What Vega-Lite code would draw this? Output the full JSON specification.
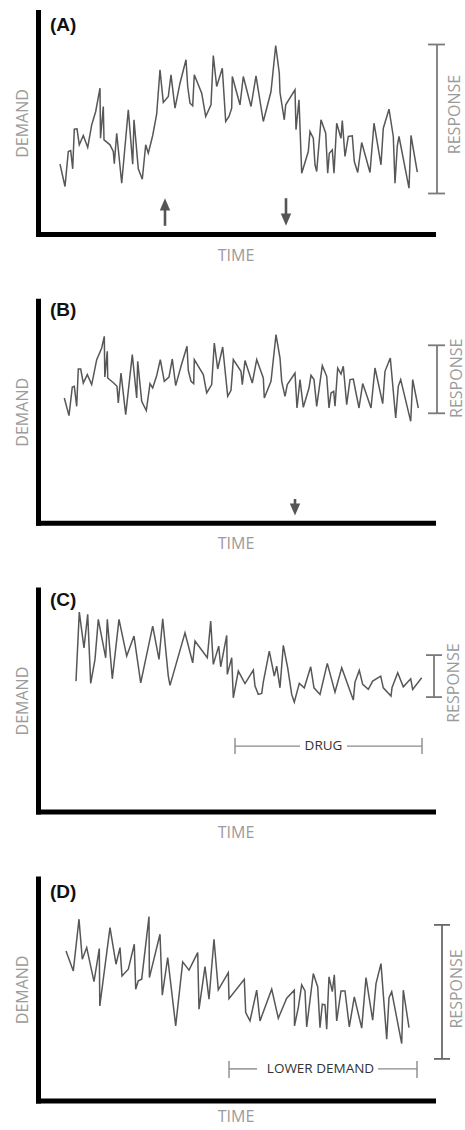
{
  "$schema": "https://vega.github.io/schema/vega-lite/v6.json",
  "padding": {"left": 14, "top": 12, "right": 0, "bottom": 3},
  "background": "white",
  "bounds": "flush",
  "spacing": 66.8,
  "config": {
    "view": {"stroke": null},
    "axis": {"domainColor": "#000", "domainWidth": 5, "domainCap": "square", "ticks": false, "labels": false, "grid": false, "titleFont": "Open Sans", "titleFontSize": 16, "titleFontWeight": "normal", "titleColor": "#9b9b9b"},
    "axisX": {"titlePadding": 13},
    "axisY": {"titlePadding": 8}
  },
  "datasets": {
    "series": [
      {"panel":"A","time":22.0,"demand":69.8},{"panel":"A","time":27.0,"demand":47.5},{"panel":"A","time":30.3,"demand":82.5},{"panel":"A","time":32.7,"demand":83.5},{"panel":"A","time":34.7,"demand":65.2},{"panel":"A","time":36.3,"demand":104.8},{"panel":"A","time":39.0,"demand":105.2},{"panel":"A","time":41.3,"demand":89.2},{"panel":"A","time":45.3,"demand":98.5},{"panel":"A","time":49.7,"demand":86.5},{"panel":"A","time":53.7,"demand":109.2},{"panel":"A","time":57.7,"demand":122.5},{"panel":"A","time":62.0,"demand":145.8},{"panel":"A","time":62.5,"demand":95.8},{"panel":"A","time":65.3,"demand":127.5},{"panel":"A","time":66.0,"demand":94.2},{"panel":"A","time":72.0,"demand":89.2},{"panel":"A","time":75.3,"demand":82.5},{"panel":"A","time":76.3,"demand":70.2},{"panel":"A","time":78.7,"demand":100.8},{"panel":"A","time":83.7,"demand":50.8},{"panel":"A","time":90.3,"demand":124.2},{"panel":"A","time":94.7,"demand":69.8},{"panel":"A","time":96.0,"demand":114.2},{"panel":"A","time":100.3,"demand":65.2},{"panel":"A","time":104.3,"demand":54.8},{"panel":"A","time":107.7,"demand":89.2},{"panel":"A","time":110.3,"demand":80.8},{"panel":"A","time":114.7,"demand":98.5},{"panel":"A","time":118.7,"demand":120.2},{"panel":"A","time":122.0,"demand":164.2},{"panel":"A","time":125.3,"demand":131.5},{"panel":"A","time":130.3,"demand":137.5},{"panel":"A","time":133.0,"demand":159.2},{"panel":"A","time":137.0,"demand":125.8},{"panel":"A","time":142.0,"demand":150.8},{"panel":"A","time":148.0,"demand":174.2},{"panel":"A","time":149.7,"demand":147.5},{"panel":"A","time":152.0,"demand":130.8},{"panel":"A","time":154.7,"demand":128.2},{"panel":"A","time":156.3,"demand":159.2},{"panel":"A","time":163.7,"demand":140.8},{"panel":"A","time":167.7,"demand":117.5},{"panel":"A","time":173.0,"demand":129.2},{"panel":"A","time":175.3,"demand":178.5},{"panel":"A","time":178.7,"demand":147.5},{"panel":"A","time":184.3,"demand":165.8},{"panel":"A","time":187.7,"demand":112.5},{"panel":"A","time":191.0,"demand":117.5},{"panel":"A","time":193.7,"demand":125.8},{"panel":"A","time":194.3,"demand":157.5},{"panel":"A","time":202.0,"demand":129.2},{"panel":"A","time":205.3,"demand":157.5},{"panel":"A","time":213.0,"demand":127.5},{"panel":"A","time":218.0,"demand":158.2},{"panel":"A","time":225.3,"demand":112.5},{"panel":"A","time":233.0,"demand":142.5},{"panel":"A","time":237.7,"demand":188.5},{"panel":"A","time":241.3,"demand":160.8},{"panel":"A","time":242.0,"demand":141.5},{"panel":"A","time":246.3,"demand":114.2},{"panel":"A","time":247.7,"demand":129.2},{"panel":"A","time":257.0,"demand":144.2},{"panel":"A","time":258.0,"demand":104.2},{"panel":"A","time":261.0,"demand":134.2},{"panel":"A","time":263.7,"demand":60.8},{"panel":"A","time":270.3,"demand":82.5},{"panel":"A","time":272.0,"demand":102.5},{"panel":"A","time":275.3,"demand":95.8},{"panel":"A","time":277.0,"demand":69.2},{"panel":"A","time":278.7,"demand":62.5},{"panel":"A","time":283.0,"demand":114.2},{"panel":"A","time":287.7,"demand":100.8},{"panel":"A","time":289.7,"demand":60.8},{"panel":"A","time":291.3,"demand":80.8},{"panel":"A","time":294.3,"demand":84.2},{"panel":"A","time":296.0,"demand":60.8},{"panel":"A","time":298.7,"demand":110.8},{"panel":"A","time":303.0,"demand":95.8},{"panel":"A","time":304.3,"demand":113.5},{"panel":"A","time":307.0,"demand":77.5},{"panel":"A","time":310.3,"demand":97.5},{"panel":"A","time":314.3,"demand":98.2},{"panel":"A","time":316.3,"demand":72.5},{"panel":"A","time":319.7,"demand":61.5},{"panel":"A","time":323.7,"demand":91.5},{"panel":"A","time":332.0,"demand":61.5},{"panel":"A","time":336.0,"demand":110.8},{"panel":"A","time":343.0,"demand":69.2},{"panel":"A","time":345.3,"demand":105.8},{"panel":"A","time":351.0,"demand":124.8},{"panel":"A","time":355.3,"demand":97.5},{"panel":"A","time":357.0,"demand":50.8},{"panel":"A","time":359.3,"demand":88.2},{"panel":"A","time":361.0,"demand":97.5},{"panel":"A","time":371.0,"demand":45.8},{"panel":"A","time":373.0,"demand":98.5},{"panel":"A","time":379.3,"demand":61.8},
      {"panel":"B","time":26.3,"demand":124.8},{"panel":"B","time":31.0,"demand":107.2},{"panel":"B","time":34.3,"demand":135.8},{"panel":"B","time":36.3,"demand":136.5},{"panel":"B","time":38.7,"demand":116.5},{"panel":"B","time":40.3,"demand":153.8},{"panel":"B","time":42.7,"demand":153.8},{"panel":"B","time":45.3,"demand":139.8},{"panel":"B","time":49.3,"demand":148.2},{"panel":"B","time":53.7,"demand":138.2},{"panel":"B","time":58.7,"demand":163.2},{"panel":"B","time":63.7,"demand":174.8},{"panel":"B","time":66.3,"demand":186.5},{"panel":"B","time":66.8,"demand":145.8},{"panel":"B","time":69.3,"demand":171.5},{"panel":"B","time":69.7,"demand":144.8},{"panel":"B","time":75.7,"demand":139.8},{"panel":"B","time":79.0,"demand":136.5},{"panel":"B","time":80.3,"demand":119.8},{"panel":"B","time":83.0,"demand":149.8},{"panel":"B","time":87.7,"demand":108.2},{"panel":"B","time":94.3,"demand":168.2},{"panel":"B","time":98.7,"demand":124.8},{"panel":"B","time":99.7,"demand":161.5},{"panel":"B","time":103.7,"demand":121.5},{"panel":"B","time":108.3,"demand":112.2},{"panel":"B","time":112.0,"demand":139.2},{"panel":"B","time":114.7,"demand":134.8},{"panel":"B","time":118.7,"demand":147.2},{"panel":"B","time":122.3,"demand":163.2},{"panel":"B","time":126.3,"demand":141.5},{"panel":"B","time":131.0,"demand":145.8},{"panel":"B","time":134.3,"demand":163.8},{"panel":"B","time":137.7,"demand":137.2},{"panel":"B","time":143.0,"demand":156.5},{"panel":"B","time":149.0,"demand":176.5},{"panel":"B","time":150.3,"demand":152.5},{"panel":"B","time":153.0,"demand":141.5},{"panel":"B","time":155.7,"demand":139.2},{"panel":"B","time":156.3,"demand":163.2},{"panel":"B","time":165.3,"demand":148.2},{"panel":"B","time":168.7,"demand":129.8},{"panel":"B","time":173.7,"demand":138.2},{"panel":"B","time":176.3,"demand":179.8},{"panel":"B","time":179.7,"demand":153.8},{"panel":"B","time":184.7,"demand":175.8},{"panel":"B","time":189.7,"demand":126.5},{"panel":"B","time":193.0,"demand":132.5},{"panel":"B","time":195.3,"demand":163.2},{"panel":"B","time":203.0,"demand":151.5},{"panel":"B","time":204.3,"demand":138.2},{"panel":"B","time":207.0,"demand":162.2},{"panel":"B","time":214.3,"demand":139.8},{"panel":"B","time":218.7,"demand":163.2},{"panel":"B","time":225.3,"demand":144.8},{"panel":"B","time":226.3,"demand":124.8},{"panel":"B","time":233.0,"demand":141.5},{"panel":"B","time":238.0,"demand":188.2},{"panel":"B","time":242.0,"demand":164.8},{"panel":"B","time":243.7,"demand":141.5},{"panel":"B","time":247.0,"demand":126.5},{"panel":"B","time":249.3,"demand":138.2},{"panel":"B","time":257.0,"demand":149.8},{"panel":"B","time":259.0,"demand":114.8},{"panel":"B","time":262.0,"demand":143.2},{"panel":"B","time":265.3,"demand":115.5},{"panel":"B","time":271.0,"demand":134.8},{"panel":"B","time":273.0,"demand":147.5},{"panel":"B","time":276.0,"demand":143.2},{"panel":"B","time":278.7,"demand":116.5},{"panel":"B","time":284.3,"demand":157.2},{"panel":"B","time":288.7,"demand":146.5},{"panel":"B","time":291.0,"demand":114.8},{"panel":"B","time":293.0,"demand":129.8},{"panel":"B","time":295.7,"demand":131.5},{"panel":"B","time":297.0,"demand":116.5},{"panel":"B","time":299.7,"demand":154.8},{"panel":"B","time":303.0,"demand":148.8},{"panel":"B","time":305.3,"demand":156.5},{"panel":"B","time":308.7,"demand":118.2},{"panel":"B","time":312.0,"demand":143.2},{"panel":"B","time":315.3,"demand":143.8},{"panel":"B","time":318.0,"demand":129.8},{"panel":"B","time":321.0,"demand":114.8},{"panel":"B","time":324.7,"demand":139.2},{"panel":"B","time":333.0,"demand":114.8},{"panel":"B","time":337.0,"demand":154.8},{"panel":"B","time":344.7,"demand":119.2},{"panel":"B","time":347.0,"demand":151.5},{"panel":"B","time":352.3,"demand":164.8},{"panel":"B","time":357.7,"demand":104.8},{"panel":"B","time":360.3,"demand":136.5},{"panel":"B","time":362.7,"demand":143.2},{"panel":"B","time":372.7,"demand":101.5},{"panel":"B","time":374.7,"demand":143.2},{"panel":"B","time":380.3,"demand":114.8},
      {"panel":"C","time":38.0,"demand":130.5},{"panel":"C","time":41.3,"demand":199.5},{"panel":"C","time":46.0,"demand":163.8},{"panel":"C","time":49.7,"demand":197.2},{"panel":"C","time":52.7,"demand":128.2},{"panel":"C","time":57.0,"demand":152.2},{"panel":"C","time":60.3,"demand":192.2},{"panel":"C","time":67.7,"demand":153.8},{"panel":"C","time":69.3,"demand":192.2},{"panel":"C","time":74.3,"demand":132.8},{"panel":"C","time":81.0,"demand":192.2},{"panel":"C","time":88.7,"demand":155.5},{"panel":"C","time":96.0,"demand":175.5},{"panel":"C","time":102.7,"demand":128.8},{"panel":"C","time":114.7,"demand":185.5},{"panel":"C","time":121.0,"demand":152.2},{"panel":"C","time":124.7,"demand":192.8},{"panel":"C","time":130.3,"demand":135.5},{"panel":"C","time":132.0,"demand":126.2},{"panel":"C","time":147.0,"demand":178.8},{"panel":"C","time":154.7,"demand":148.8},{"panel":"C","time":157.0,"demand":170.5},{"panel":"C","time":169.3,"demand":153.8},{"panel":"C","time":172.7,"demand":190.5},{"panel":"C","time":175.3,"demand":147.2},{"panel":"C","time":180.7,"demand":165.5},{"panel":"C","time":182.7,"demand":144.8},{"panel":"C","time":188.7,"demand":176.2},{"panel":"C","time":189.3,"demand":137.2},{"panel":"C","time":193.7,"demand":153.8},{"panel":"C","time":195.3,"demand":113.8},{"panel":"C","time":200.3,"demand":140.5},{"panel":"C","time":207.0,"demand":128.0},{"panel":"C","time":215.3,"demand":141.5},{"panel":"C","time":217.0,"demand":125.5},{"panel":"C","time":220.3,"demand":117.2},{"panel":"C","time":223.7,"demand":118.2},{"panel":"C","time":225.3,"demand":129.5},{"panel":"C","time":231.3,"demand":160.5},{"panel":"C","time":236.3,"demand":135.5},{"panel":"C","time":238.7,"demand":145.5},{"panel":"C","time":242.0,"demand":123.8},{"panel":"C","time":245.3,"demand":166.2},{"panel":"C","time":249.7,"demand":143.8},{"panel":"C","time":253.7,"demand":117.2},{"panel":"C","time":256.3,"demand":109.5},{"panel":"C","time":261.3,"demand":128.2},{"panel":"C","time":266.3,"demand":123.8},{"panel":"C","time":272.7,"demand":144.8},{"panel":"C","time":276.0,"demand":123.8},{"panel":"C","time":282.0,"demand":117.2},{"panel":"C","time":289.3,"demand":148.2},{"panel":"C","time":297.0,"demand":119.5},{"panel":"C","time":303.7,"demand":143.8},{"panel":"C","time":315.3,"demand":111.5},{"panel":"C","time":317.0,"demand":129.5},{"panel":"C","time":321.3,"demand":141.2},{"panel":"C","time":324.7,"demand":127.2},{"panel":"C","time":330.3,"demand":122.2},{"panel":"C","time":334.7,"demand":130.5},{"panel":"C","time":342.7,"demand":135.5},{"panel":"C","time":345.3,"demand":123.8},{"panel":"C","time":353.0,"demand":115.5},{"panel":"C","time":354.0,"demand":123.8},{"panel":"C","time":359.7,"demand":138.8},{"panel":"C","time":365.3,"demand":124.8},{"panel":"C","time":372.7,"demand":132.8},{"panel":"C","time":374.7,"demand":122.2},{"panel":"C","time":383.7,"demand":133.8},
      {"panel":"D","time":28.0,"demand":149.5},{"panel":"D","time":35.3,"demand":129.5},{"panel":"D","time":41.0,"demand":181.2},{"panel":"D","time":44.3,"demand":141.2},{"panel":"D","time":48.7,"demand":152.8},{"panel":"D","time":56.0,"demand":118.8},{"panel":"D","time":61.3,"demand":151.8},{"panel":"D","time":61.8,"demand":94.5},{"panel":"D","time":72.0,"demand":172.8},{"panel":"D","time":78.0,"demand":136.2},{"panel":"D","time":82.0,"demand":152.8},{"panel":"D","time":84.0,"demand":124.5},{"panel":"D","time":90.3,"demand":131.2},{"panel":"D","time":96.3,"demand":156.2},{"panel":"D","time":97.7,"demand":111.2},{"panel":"D","time":100.3,"demand":119.5},{"panel":"D","time":103.7,"demand":121.2},{"panel":"D","time":111.0,"demand":183.8},{"panel":"D","time":111.4,"demand":122.8},{"panel":"D","time":122.0,"demand":166.2},{"panel":"D","time":124.3,"demand":105.2},{"panel":"D","time":129.7,"demand":142.8},{"panel":"D","time":137.7,"demand":74.5},{"panel":"D","time":144.7,"demand":138.5},{"panel":"D","time":151.0,"demand":130.2},{"panel":"D","time":159.7,"demand":147.8},{"panel":"D","time":161.0,"demand":91.2},{"panel":"D","time":167.0,"demand":133.8},{"panel":"D","time":171.0,"demand":101.2},{"panel":"D","time":176.0,"demand":161.2},{"panel":"D","time":180.3,"demand":110.5},{"panel":"D","time":190.3,"demand":127.8},{"panel":"D","time":191.0,"demand":101.8},{"panel":"D","time":206.3,"demand":121.2},{"panel":"D","time":207.7,"demand":87.8},{"panel":"D","time":212.0,"demand":79.5},{"panel":"D","time":218.7,"demand":110.2},{"panel":"D","time":222.0,"demand":79.5},{"panel":"D","time":233.7,"demand":111.2},{"panel":"D","time":240.3,"demand":82.2},{"panel":"D","time":248.7,"demand":102.2},{"panel":"D","time":256.3,"demand":110.2},{"panel":"D","time":256.5,"demand":74.5},{"panel":"D","time":260.3,"demand":92.8},{"panel":"D","time":263.7,"demand":115.5},{"panel":"D","time":267.0,"demand":109.5},{"panel":"D","time":268.7,"demand":73.5},{"panel":"D","time":275.3,"demand":126.8},{"panel":"D","time":279.7,"demand":113.5},{"panel":"D","time":282.0,"demand":72.8},{"panel":"D","time":284.3,"demand":96.2},{"panel":"D","time":287.0,"demand":95.5},{"panel":"D","time":288.7,"demand":71.2},{"panel":"D","time":291.0,"demand":123.5},{"panel":"D","time":294.3,"demand":108.8},{"panel":"D","time":296.3,"demand":125.5},{"panel":"D","time":298.7,"demand":79.5},{"panel":"D","time":303.0,"demand":109.5},{"panel":"D","time":307.0,"demand":109.5},{"panel":"D","time":311.3,"demand":73.5},{"panel":"D","time":316.3,"demand":103.5},{"panel":"D","time":323.7,"demand":72.2},{"panel":"D","time":328.0,"demand":122.8},{"panel":"D","time":334.7,"demand":80.2},{"panel":"D","time":338.0,"demand":116.8},{"panel":"D","time":343.0,"demand":136.8},{"panel":"D","time":348.7,"demand":61.2},{"panel":"D","time":351.0,"demand":102.8},{"panel":"D","time":353.7,"demand":108.8},{"panel":"D","time":363.7,"demand":56.8},{"panel":"D","time":365.3,"demand":110.2},{"panel":"D","time":371.0,"demand":72.8}
    ],
    "segs": [
      {"panel":"A","kind":"bracket","time":399,"time2":399,"demand":40.5,"demand2":189.5},
      {"panel":"A","kind":"bracket","time":390,"time2":407,"demand":189.5,"demand2":189.5},
      {"panel":"A","kind":"bracket","time":390,"time2":407,"demand":40.5,"demand2":40.5},
      {"panel":"A","kind":"shaft","time":127,"time2":127,"demand":8.2,"demand2":25},
      {"panel":"A","kind":"shaft","time":248,"time2":248,"demand":19,"demand2":35.8},
      {"panel":"B","kind":"bracket","time":399,"time2":399,"demand":109.5,"demand2":177.5},
      {"panel":"B","kind":"bracket","time":390,"time2":407,"demand":177.5,"demand2":177.5},
      {"panel":"B","kind":"bracket","time":390,"time2":407,"demand":109.5,"demand2":109.5},
      {"panel":"B","kind":"shaft","time":257,"time2":257,"demand":17,"demand2":23.8},
      {"panel":"C","kind":"bracket","time":396,"time2":396,"demand":114.5,"demand2":156.5},
      {"panel":"C","kind":"bracket","time":388,"time2":404,"demand":156.5,"demand2":156.5},
      {"panel":"C","kind":"bracket","time":388,"time2":404,"demand":114.5,"demand2":114.5},
      {"panel":"C","kind":"range","time":197,"time2":262,"demand":65.5,"demand2":65.5},
      {"panel":"C","kind":"range","time":309,"time2":384,"demand":65.5,"demand2":65.5},
      {"panel":"C","kind":"range","time":197,"time2":197,"demand":57.5,"demand2":73.5},
      {"panel":"C","kind":"range","time":384,"time2":384,"demand":57.5,"demand2":73.5},
      {"panel":"D","kind":"bracket","time":404,"time2":404,"demand":41.5,"demand2":175.5},
      {"panel":"D","kind":"bracket","time":396,"time2":412,"demand":175.5,"demand2":175.5},
      {"panel":"D","kind":"bracket","time":396,"time2":412,"demand":41.5,"demand2":41.5},
      {"panel":"D","kind":"range","time":191,"time2":219,"demand":31.5,"demand2":31.5},
      {"panel":"D","kind":"range","time":340,"time2":379,"demand":31.5,"demand2":31.5},
      {"panel":"D","kind":"range","time":191,"time2":191,"demand":22.5,"demand2":39.5},
      {"panel":"D","kind":"range","time":379,"time2":379,"demand":22.5,"demand2":39.5}
    ],
    "heads": [
      {"panel":"A","dir":"up","time":127,"demand":29.7},
      {"panel":"A","dir":"down","time":248,"demand":14.3},
      {"panel":"B","dir":"down","time":257,"demand":13.3}
    ],
    "texts": [
      {"panel":"A","kind":"tag","time":12,"demand":209,"label":"(A)"},
      {"panel":"B","kind":"tag","time":12,"demand":212.5,"label":"(B)"},
      {"panel":"C","kind":"tag","time":12,"demand":211.5,"label":"(C)"},
      {"panel":"D","kind":"tag","time":12,"demand":208.5,"label":"(D)"},
      {"panel":"A","kind":"response","time":417,"demand":119.5,"label":"RESPONSE"},
      {"panel":"B","kind":"response","time":419,"demand":144.5,"label":"RESPONSE"},
      {"panel":"C","kind":"response","time":416,"demand":128.5,"label":"RESPONSE"},
      {"panel":"D","kind":"response","time":419,"demand":111.5,"label":"RESPONSE"},
      {"panel":"C","kind":"range","time":285.5,"demand":65.5,"label":"DRUG"},
      {"panel":"D","kind":"range","time":282.5,"demand":31.5,"label":"LOWER DEMAND"}
    ]
  },
  "vconcat": [
    {
      "width": 395, "height": 222,
      "layer": [
        {"data": {"name": "series"}, "transform": [{"filter": "datum.panel == 'A'"}],
         "mark": {"type": "line", "color": "#575757", "strokeWidth": 1.5},
         "encoding": {"x": {"field": "time", "type": "quantitative", "title": "TIME", "scale": {"domain": [0, 395], "nice": false}},
                      "y": {"field": "demand", "type": "quantitative", "title": "DEMAND", "scale": {"domain": [0, 222], "nice": false}}}},
        {"data": {"name": "segs"}, "transform": [{"filter": "datum.panel == 'A' && datum.kind == 'bracket'"}],
         "mark": {"type": "rule", "color": "#7a7a7a", "strokeWidth": 1.8},
         "encoding": {"x": {"field": "time", "type": "quantitative", "title": "TIME"}, "x2": {"field": "time2", "title": "TIME"},
                      "y": {"field": "demand", "type": "quantitative", "title": "DEMAND"}, "y2": {"field": "demand2", "title": "DEMAND"}}},
        {"data": {"name": "segs"}, "transform": [{"filter": "datum.panel == 'A' && datum.kind == 'shaft'"}],
         "mark": {"type": "rule", "color": "#555555", "strokeWidth": 2.6},
         "encoding": {"x": {"field": "time", "type": "quantitative", "title": "TIME"}, "x2": {"field": "time2", "title": "TIME"},
                      "y": {"field": "demand", "type": "quantitative", "title": "DEMAND"}, "y2": {"field": "demand2", "title": "DEMAND"}}},
        {"data": {"name": "heads"}, "transform": [{"filter": "datum.panel == 'A'"}],
         "mark": {"type": "point", "filled": true, "color": "#555555", "opacity": 1, "size": 150},
         "encoding": {"x": {"field": "time", "type": "quantitative", "title": "TIME"},
                      "y": {"field": "demand", "type": "quantitative", "title": "DEMAND"},
                      "shape": {"field": "dir", "type": "nominal", "legend": null, "scale": {"domain": ["up", "down"], "range": ["M0,-1L0.85,1L-0.85,1Z", "M0,1L0.85,-1L-0.85,-1Z"]}}}},
        {"data": {"name": "texts"}, "transform": [{"filter": "datum.panel == 'A' && datum.kind == 'tag'"}],
         "mark": {"type": "text", "font": "Liberation Sans", "fontWeight": "bold", "fontSize": 19, "align": "left", "baseline": "middle", "color": "#111"},
         "encoding": {"x": {"field": "time", "type": "quantitative", "title": "TIME"}, "y": {"field": "demand", "type": "quantitative", "title": "DEMAND"}, "text": {"field": "label"}}},
        {"data": {"name": "texts"}, "transform": [{"filter": "datum.panel == 'A' && datum.kind == 'response'"}],
         "mark": {"type": "text", "font": "Open Sans", "fontSize": 16, "angle": 270, "align": "center", "baseline": "middle", "color": "#9b9b9b"},
         "encoding": {"x": {"field": "time", "type": "quantitative", "title": "TIME"}, "y": {"field": "demand", "type": "quantitative", "title": "DEMAND"}, "text": {"field": "label"}}}
      ]
    },
    {
      "width": 395, "height": 222,
      "layer": [
        {"data": {"name": "series"}, "transform": [{"filter": "datum.panel == 'B'"}],
         "mark": {"type": "line", "color": "#575757", "strokeWidth": 1.5},
         "encoding": {"x": {"field": "time", "type": "quantitative", "title": "TIME", "scale": {"domain": [0, 395], "nice": false}},
                      "y": {"field": "demand", "type": "quantitative", "title": "DEMAND", "scale": {"domain": [0, 222], "nice": false}}}},
        {"data": {"name": "segs"}, "transform": [{"filter": "datum.panel == 'B' && datum.kind == 'bracket'"}],
         "mark": {"type": "rule", "color": "#7a7a7a", "strokeWidth": 1.8},
         "encoding": {"x": {"field": "time", "type": "quantitative", "title": "TIME"}, "x2": {"field": "time2", "title": "TIME"},
                      "y": {"field": "demand", "type": "quantitative", "title": "DEMAND"}, "y2": {"field": "demand2", "title": "DEMAND"}}},
        {"data": {"name": "segs"}, "transform": [{"filter": "datum.panel == 'B' && datum.kind == 'shaft'"}],
         "mark": {"type": "rule", "color": "#555555", "strokeWidth": 2.6},
         "encoding": {"x": {"field": "time", "type": "quantitative", "title": "TIME"}, "x2": {"field": "time2", "title": "TIME"},
                      "y": {"field": "demand", "type": "quantitative", "title": "DEMAND"}, "y2": {"field": "demand2", "title": "DEMAND"}}},
        {"data": {"name": "heads"}, "transform": [{"filter": "datum.panel == 'B'"}],
         "mark": {"type": "point", "filled": true, "color": "#555555", "opacity": 1, "size": 150},
         "encoding": {"x": {"field": "time", "type": "quantitative", "title": "TIME"},
                      "y": {"field": "demand", "type": "quantitative", "title": "DEMAND"},
                      "shape": {"field": "dir", "type": "nominal", "legend": null, "scale": {"domain": ["up", "down"], "range": ["M0,-1L0.85,1L-0.85,1Z", "M0,1L0.85,-1L-0.85,-1Z"]}}}},
        {"data": {"name": "texts"}, "transform": [{"filter": "datum.panel == 'B' && datum.kind == 'tag'"}],
         "mark": {"type": "text", "font": "Liberation Sans", "fontWeight": "bold", "fontSize": 19, "align": "left", "baseline": "middle", "color": "#111"},
         "encoding": {"x": {"field": "time", "type": "quantitative", "title": "TIME"}, "y": {"field": "demand", "type": "quantitative", "title": "DEMAND"}, "text": {"field": "label"}}},
        {"data": {"name": "texts"}, "transform": [{"filter": "datum.panel == 'B' && datum.kind == 'response'"}],
         "mark": {"type": "text", "font": "Open Sans", "fontSize": 16, "angle": 270, "align": "center", "baseline": "middle", "color": "#9b9b9b"},
         "encoding": {"x": {"field": "time", "type": "quantitative", "title": "TIME"}, "y": {"field": "demand", "type": "quantitative", "title": "DEMAND"}, "text": {"field": "label"}}}
      ]
    },
    {
      "width": 395, "height": 222,
      "layer": [
        {"data": {"name": "series"}, "transform": [{"filter": "datum.panel == 'C'"}],
         "mark": {"type": "line", "color": "#575757", "strokeWidth": 1.5},
         "encoding": {"x": {"field": "time", "type": "quantitative", "title": "TIME", "scale": {"domain": [0, 395], "nice": false}},
                      "y": {"field": "demand", "type": "quantitative", "title": "DEMAND", "scale": {"domain": [0, 222], "nice": false}}}},
        {"data": {"name": "segs"}, "transform": [{"filter": "datum.panel == 'C' && datum.kind == 'bracket'"}],
         "mark": {"type": "rule", "color": "#7a7a7a", "strokeWidth": 1.8},
         "encoding": {"x": {"field": "time", "type": "quantitative", "title": "TIME"}, "x2": {"field": "time2", "title": "TIME"},
                      "y": {"field": "demand", "type": "quantitative", "title": "DEMAND"}, "y2": {"field": "demand2", "title": "DEMAND"}}},
        {"data": {"name": "segs"}, "transform": [{"filter": "datum.panel == 'C' && datum.kind == 'range'"}],
         "mark": {"type": "rule", "color": "#8a8a8a", "strokeWidth": 1.4},
         "encoding": {"x": {"field": "time", "type": "quantitative", "title": "TIME"}, "x2": {"field": "time2", "title": "TIME"},
                      "y": {"field": "demand", "type": "quantitative", "title": "DEMAND"}, "y2": {"field": "demand2", "title": "DEMAND"}}},
        {"data": {"name": "texts"}, "transform": [{"filter": "datum.panel == 'C' && datum.kind == 'tag'"}],
         "mark": {"type": "text", "font": "Liberation Sans", "fontWeight": "bold", "fontSize": 19, "align": "left", "baseline": "middle", "color": "#111"},
         "encoding": {"x": {"field": "time", "type": "quantitative", "title": "TIME"}, "y": {"field": "demand", "type": "quantitative", "title": "DEMAND"}, "text": {"field": "label"}}},
        {"data": {"name": "texts"}, "transform": [{"filter": "datum.panel == 'C' && datum.kind == 'response'"}],
         "mark": {"type": "text", "font": "Open Sans", "fontSize": 16, "angle": 270, "align": "center", "baseline": "middle", "color": "#9b9b9b"},
         "encoding": {"x": {"field": "time", "type": "quantitative", "title": "TIME"}, "y": {"field": "demand", "type": "quantitative", "title": "DEMAND"}, "text": {"field": "label"}}},
        {"data": {"name": "texts"}, "transform": [{"filter": "datum.panel == 'C' && datum.kind == 'range'"}],
         "mark": {"type": "text", "font": "Open Sans", "fontSize": 13.5, "align": "center", "baseline": "middle", "color": "#333333"},
         "encoding": {"x": {"field": "time", "type": "quantitative", "title": "TIME"}, "y": {"field": "demand", "type": "quantitative", "title": "DEMAND"}, "text": {"field": "label"}}}
      ]
    },
    {
      "width": 395, "height": 222,
      "layer": [
        {"data": {"name": "series"}, "transform": [{"filter": "datum.panel == 'D'"}],
         "mark": {"type": "line", "color": "#575757", "strokeWidth": 1.5},
         "encoding": {"x": {"field": "time", "type": "quantitative", "title": "TIME", "scale": {"domain": [0, 395], "nice": false}, "axis": {"titlePadding": 8}},
                      "y": {"field": "demand", "type": "quantitative", "title": "DEMAND", "scale": {"domain": [0, 222], "nice": false}}}},
        {"data": {"name": "segs"}, "transform": [{"filter": "datum.panel == 'D' && datum.kind == 'bracket'"}],
         "mark": {"type": "rule", "color": "#6a6a6a", "strokeWidth": 1.8},
         "encoding": {"x": {"field": "time", "type": "quantitative", "title": "TIME"}, "x2": {"field": "time2", "title": "TIME"},
                      "y": {"field": "demand", "type": "quantitative", "title": "DEMAND"}, "y2": {"field": "demand2", "title": "DEMAND"}}},
        {"data": {"name": "segs"}, "transform": [{"filter": "datum.panel == 'D' && datum.kind == 'range'"}],
         "mark": {"type": "rule", "color": "#8a8a8a", "strokeWidth": 1.4},
         "encoding": {"x": {"field": "time", "type": "quantitative", "title": "TIME"}, "x2": {"field": "time2", "title": "TIME"},
                      "y": {"field": "demand", "type": "quantitative", "title": "DEMAND"}, "y2": {"field": "demand2", "title": "DEMAND"}}},
        {"data": {"name": "texts"}, "transform": [{"filter": "datum.panel == 'D' && datum.kind == 'tag'"}],
         "mark": {"type": "text", "font": "Liberation Sans", "fontWeight": "bold", "fontSize": 19, "align": "left", "baseline": "middle", "color": "#111"},
         "encoding": {"x": {"field": "time", "type": "quantitative", "title": "TIME"}, "y": {"field": "demand", "type": "quantitative", "title": "DEMAND"}, "text": {"field": "label"}}},
        {"data": {"name": "texts"}, "transform": [{"filter": "datum.panel == 'D' && datum.kind == 'response'"}],
         "mark": {"type": "text", "font": "Open Sans", "fontSize": 16, "angle": 270, "align": "center", "baseline": "middle", "color": "#9b9b9b"},
         "encoding": {"x": {"field": "time", "type": "quantitative", "title": "TIME"}, "y": {"field": "demand", "type": "quantitative", "title": "DEMAND"}, "text": {"field": "label"}}},
        {"data": {"name": "texts"}, "transform": [{"filter": "datum.panel == 'D' && datum.kind == 'range'"}],
         "mark": {"type": "text", "font": "Open Sans", "fontSize": 13.5, "align": "center", "baseline": "middle", "color": "#333333"},
         "encoding": {"x": {"field": "time", "type": "quantitative", "title": "TIME"}, "y": {"field": "demand", "type": "quantitative", "title": "DEMAND"}, "text": {"field": "label"}}}
      ]
    }
  ]
}
